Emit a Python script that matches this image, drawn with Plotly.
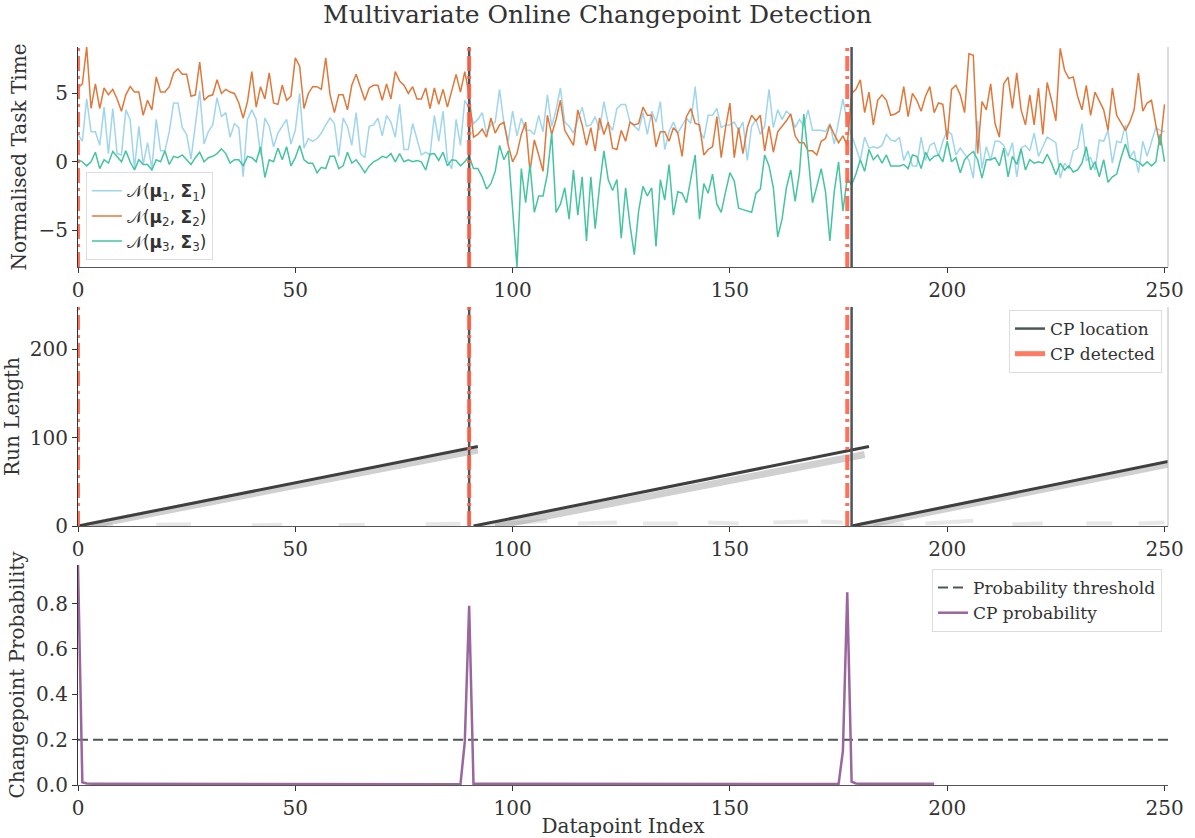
import plotly.graph_objects as go
from plotly.subplots import make_subplots

# ---------------- data ----------------
x_idx = list(range(251))

series_1 = [
    2.0, 1.5, 4.6, 2.2, 2.2, 1.2, 4.0, 0.6, 3.9, 0.6,
    0.5, 3.8, 3.1, -0.5, 2.6, -0.2, 1.4, -0.5, 3.1, 0.8,
    0.8, 2.2, 4.3, 4.3, 2.5, 2.0, 0.2, 2.5, 5.2, 1.3,
    2.2, 2.7, 4.7, 3.3, 3.6, 1.8, 2.8, 2.5, -1.1, 3.1,
    3.8, 3.1, 0.5, 3.2, 2.6, 1.1, 2.1, 2.6, 3.1, 1.3,
    2.3, 5.0, 1.0, 1.7, 1.5, 1.7, 2.1, 2.7, 3.2, 2.8,
    0.4, 3.2, 2.6, 1.2, 3.6, 0.6, 0.3, 2.6, 2.7, 3.2,
    1.9, 3.4, 2.9, 1.8, 4.2, 0.9, 0.9, 2.8, 1.7, 0.5,
    0.7, 0.5, 3.4, 1.5, 3.7, 0.1, -0.5, 3.1, 1.2, 4.5,
    3.9, 2.8, 3.1, 3.6, 2.1, 2.7, 2.9, 5.3, 2.8, 1.5,
    3.7, 1.9, 3.2, 2.3, 2.3, 2.0, 3.4, 2.2, 4.9, 2.6,
    3.8, 5.4, 2.9, 2.6, 2.1, 3.1, 4.0, 2.6, 2.7, 3.3,
    2.3, 4.4, 2.8, 2.3, 3.9, 4.2, 4.2, 2.9, 2.6, 2.3,
    3.6, 2.0, 3.7, 2.9, 4.4, 0.9, 2.2, 2.9, 2.1, 2.7,
    3.2, 2.8, 5.5, 2.3, 1.7, 3.4, 3.4, 3.9, 2.5, 2.7,
    2.7, 2.9, 2.3, 2.9, 0.1, 2.6, 3.1, 2.0, 2.6, 5.3,
    2.5, 3.8, 3.1, 3.7, 3.4, 2.5, 3.1, 2.6, 3.8, 2.3,
    2.3, 2.3, 2.2, 2.8, 1.3, 2.9, 4.6, 2.9, 2.0, 1.0,
    0.1, 1.8, 1.0, 1.1, 1.0, 1.2, 2.0, 1.6, 1.5, 1.8,
    0.1, 0.8, -0.3, -0.3, 1.8, 0.1, 1.2, 1.4, 0.4, 1.5,
    2.3, 2.0, 0.5, 1.0, 0.5, 0.1, -1.2, 3.0, -0.5, 1.1,
    0.1, 1.5, 1.5, 1.2, 0.4, 1.4, -1.1, 1.0, 1.2, 0.8,
    2.1, 0.4, 1.1, 1.8, 1.6, 1.4, -1.2, -0.1, -0.5, 0.8,
    1.0, 2.8, 0.1, 0.3, -0.6, 1.6, 1.5, 2.3, -0.1, 1.5,
    1.4, 2.7, 0.3, 0.8, -0.8, 1.5, 0.4, 1.4, 2.5, 2.3, 2.2,
]

series_2 = [
    5.4, 5.7, 8.4, 3.9, 5.7, 3.9, 5.4, 4.9, 5.3, 4.6,
    3.7, 4.9, 5.5, 5.1, 5.1, 3.4, 4.5, 3.8, 6.2, 5.1,
    5.1, 5.5, 6.5, 6.8, 6.4, 6.4, 4.8, 4.9, 7.3, 4.5,
    4.8, 4.9, 6.0, 5.0, 5.3, 5.1, 5.0, 4.3, 3.2, 4.4,
    6.6, 4.0, 5.5, 4.6, 6.5, 4.3, 4.2, 5.6, 4.5, 4.8,
    7.6, 7.0, 3.9, 5.0, 5.5, 5.5, 5.3, 7.6, 4.9, 3.6,
    4.9, 4.9, 3.8, 5.6, 6.4, 5.4, 4.5, 5.4, 5.6, 5.6,
    4.5, 5.7, 4.6, 6.6, 5.9, 5.6, 5.0, 5.5, 4.6, 4.6,
    5.4, 3.9, 5.4, 4.2, 5.3, 4.0, 5.3, 6.4, 5.1, 6.6,
    4.9, 1.8, 2.0, 2.4, 1.8, 3.2, 2.1, 2.7, 2.9, 1.2,
    0.0, 0.6, 2.0, 2.9, -0.7, 1.6, 0.5, -0.7, 3.4, 2.0,
    3.1, 4.5, 2.3, 1.8, 1.2, 3.8, 2.7, 1.2, 2.5, 0.8,
    3.2, 2.0, 2.9, 1.0, 0.9, 2.3, 1.5, 2.9, 2.7, 2.8,
    4.0, 3.4, 3.4, 1.1, 2.2, 2.2, 1.5, 2.5, 2.1, 0.4,
    3.3, 3.9, 2.8, 2.7, 0.5, 0.9, 1.1, 3.3, 0.3, 2.5,
    4.3, 0.3, 2.5, 0.6, 2.5, 3.4, 3.0, 3.4, 0.8, 2.6,
    0.7, 2.2, 2.6, 3.0, 3.5, 1.9, 1.4, 1.4, 0.8, 0.8,
    0.5, 1.5, 1.7, 2.7, 2.0, 1.4, 1.9, 1.2, 5.0, 5.3,
    6.0, 3.6, 5.1, 2.7, 4.5, 4.9, 4.5, 3.4, 3.5, 3.7,
    5.5, 3.3, 5.0, 4.5, 3.7, 4.8, 5.5, 3.6, 4.3, 4.2,
    1.6, 5.3, 5.6, 4.9, 3.6, 7.9, 7.8, 0.6, 4.4, 3.8,
    5.7, 2.8, 1.8, 5.7, 6.2, 3.9, 6.5, 3.8, 2.7, 4.9,
    2.7, 5.4, 2.0, 5.8, 4.5, 3.0, 8.3, 6.7, 6.1, 6.2,
    4.8, 3.8, 5.6, 3.4, 5.1, 4.4, 3.8, 2.3, 5.4, 3.4,
    2.9, 2.3, 2.9, 3.8, 6.5, 3.7, 4.3, 4.5, 2.7, 1.2, 4.2,
]

series_3 = [
    0.15, 0.0, -0.3, 0.0, 0.7, -0.5, 0.15, -0.1, 0.75, 0.4,
    0.0, 0.8, 0.0, -0.6, 0.15, -0.2, -0.2, -0.6, 0.15, 0.0,
    0.8, -0.2, 0.4, 0.3, 0.5, 0.15, -0.2, 0.3, 0.7, 0.0,
    0.3, 0.4, 0.6, 0.95, 0.6, -0.1, 0.15, 0.15, -0.3, 0.4,
    0.3, 0.0, 1.1, -1.15, 0.15, 0.0, 1.0, 0.15, 1.1, -0.3,
    0.3, 1.2, 0.15, -0.1, -0.1, -0.8, -0.4, -0.5, 0.4, 0.4,
    -0.5, -0.3, 0.7, -0.1, 0.15, -0.3, -0.8, -0.3, 0.0, 0.15,
    0.4, 0.3, 0.6, 0.0, 0.6, 0.0, 0.15, 0.0, 0.1, 0.0,
    -0.6, 0.55, 0.6, 0.1, 0.7, -0.3, 0.15, 0.1, -0.3, 0.0,
    0.4, -0.5, -0.5, -1.1, -2.0, -1.6, -0.7, 1.2, 0.15, 0.8,
    -3.5, -7.7, -0.5, -3.0, -0.2, -3.7, -2.5, -2.5, -0.9, 2.1,
    -3.7, -3.1, -1.9, -4.2, -0.6, -3.9, -1.1, -5.8, -1.1, -4.9,
    -1.8, 0.8, -1.3, -2.1, -1.3, -5.6, -1.9, -4.6, -6.8, -3.6,
    -1.8, -2.5, -1.9, -6.2, -1.3, -2.8, -0.2, -3.9, -2.2, -2.3,
    -3.0, -1.2, 0.5, -4.2, -1.6, -2.3, -0.9, -3.1, -3.7, -2.2,
    -0.8, -1.4, -3.4, -3.5, -3.6, -3.7, -2.3, -2.0, 0.5, -0.3,
    -1.9, -5.5, -4.2, -1.9, -0.6, -2.9, -0.8, 3.5, 0.4, -3.0,
    -1.8, -0.5, -2.2, -5.8, -2.2, 0.0, -3.6, -1.2, -1.7, -0.9,
    0.15, -0.7, 0.9, 0.15, 0.5, -0.1, 0.5, -0.3, -0.3, -0.3,
    -0.2, -0.5, 0.5, 0.4, -0.5, 0.7, 0.1, 0.4, 0.5, 0.0,
    1.5, 0.0, 0.3, -0.8, 0.15, 0.5, 0.75, 0.15, -1.2, 0.15,
    0.15, 0.3, -0.3, 1.0, -1.1, 0.4, -0.2, 0.95, -0.6, 0.15,
    -0.1, 0.0, -0.1, 0.55, -0.1, -0.95, -0.1, -0.6, -0.3, -0.75,
    -0.6, -0.1, 1.1, -0.6, 0.0, -1.1, 0.15, -1.5, -1.1, -0.9,
    0.3, 1.3, 0.3, 0.15, 0.0, -0.3, 0.0, -0.3, 0.0, 2.0, 0.0,
]

series_names = [
    "𝒩(<b>μ</b><sub>1</sub>, <b>Σ</b><sub>1</sub>)",
    "𝒩(<b>μ</b><sub>2</sub>, <b>Σ</b><sub>2</sub>)",
    "𝒩(<b>μ</b><sub>3</sub>, <b>Σ</b><sub>3</sub>)",
]

cp_location = [90, 178]
cp_detected = [0, 90, 177]

# run-length posterior ridges (start time, end time, run length at end)
ridge_start = [0, 91, 178]
ridge_end = [92, 182, 250.8]
ridge_end_r = [90, 90, 73]
# lighter spread just below each ridge
shadow_start = [2, 96, 180]
shadow_end = [92, 181, 250.8]
shadow_end_r = [86, 81, 70]
# faint low run-length mass
low_t = [[3, 8], [18, 26], [40, 47], [60, 66], [80, 88],
         [93, 108], [115, 124], [130, 138], [145, 152], [160, 168], [171, 176],
         [183, 190], [195, 206], [215, 222], [232, 238], [244, 250]]
low_r = [[1, 1.5], [1.5, 2], [1, 1.5], [1, 1.5], [2, 2.5],
         [1, 6], [3, 4], [3, 3], [4, 3], [4, 5], [5, 4],
         [1, 2], [3, 6], [2, 3], [3, 3], [3, 4]]

prob_x = list(range(198))
prob_cp = [
    0.97, 0.012, 0.007,
    0.005, 0.005, 0.005, 0.005, 0.005, 0.005, 0.005, 0.005, 0.005, 0.005,
    0.005, 0.005, 0.005, 0.005, 0.005, 0.005, 0.005, 0.005, 0.005, 0.005,
    0.005, 0.005, 0.005, 0.005, 0.005, 0.005, 0.005, 0.005, 0.005, 0.005,
    0.005, 0.005, 0.005, 0.005, 0.005, 0.005, 0.005, 0.005, 0.005, 0.005,
    0.005, 0.005, 0.005, 0.005, 0.005, 0.005, 0.005, 0.005, 0.005, 0.005,
    0.005, 0.005, 0.005, 0.005, 0.005, 0.005, 0.005, 0.005, 0.005, 0.005,
    0.005, 0.005, 0.005, 0.005, 0.005, 0.005, 0.005, 0.005, 0.005, 0.005,
    0.005, 0.005, 0.005, 0.005, 0.005, 0.005, 0.005, 0.005, 0.005, 0.005,
    0.005, 0.005, 0.005, 0.005, 0.005,
    0.003, 0.19, 0.79, 0.006,
    0.005, 0.005, 0.005, 0.005, 0.005, 0.005, 0.005, 0.005, 0.005, 0.005,
    0.005, 0.005, 0.005, 0.005, 0.005, 0.005, 0.005, 0.005, 0.005, 0.005,
    0.005, 0.005, 0.005, 0.005, 0.005, 0.005, 0.005, 0.005, 0.005, 0.005,
    0.005, 0.005, 0.005, 0.005, 0.005, 0.005, 0.005, 0.005, 0.005, 0.005,
    0.005, 0.005, 0.005, 0.005, 0.005, 0.005, 0.005, 0.005, 0.005, 0.005,
    0.005, 0.005, 0.005, 0.005, 0.005, 0.005, 0.005, 0.005, 0.005, 0.005,
    0.005, 0.005, 0.005, 0.005, 0.005, 0.005, 0.005, 0.005, 0.005, 0.005,
    0.005, 0.005, 0.005, 0.005, 0.005, 0.005, 0.005, 0.005, 0.005, 0.005,
    0.005, 0.005, 0.005,
    0.004, 0.15, 0.85, 0.015, 0.007,
    0.005, 0.005, 0.005, 0.005, 0.005, 0.005, 0.005, 0.005, 0.005, 0.005,
    0.005, 0.005, 0.005, 0.005, 0.005, 0.005, 0.005, 0.005,
]
threshold = 0.2

x_ticks = [0, 50, 100, 150, 200, 250]
y1_ticks = [-5, 0, 5]
y2_ticks = [0, 100, 200]
y3_ticks = [0.0, 0.2, 0.4, 0.6, 0.8]

# ---------------- style ----------------
SERIF = "DejaVu Serif"
TXT = "#333333"
C_SERIES = ["#9fd5ed", "#e0783a", "#45c4a0"]
C_LOC = "#4c5659"
C_DET = "rgba(255,99,71,0.9)"
C_PROB = "#9a669e"
X_RANGE = [0, 250.8]
Y1_RANGE = [-7.7, 8.4]
Y2_RANGE = [0, 248]
Y3_RANGE = [0, 0.97]
DET_DASH = "15px,5px,3px,5px"
FS = 20

fig = make_subplots(rows=3, cols=1)

# --- panel 1: series
for s, name, col in zip([series_1, series_2, series_3], series_names, C_SERIES):
    fig.add_trace(go.Scatter(x=x_idx, y=s, mode="lines", name=name,
                             line=dict(color=col, width=1.5), legend="legend"),
                  row=1, col=1)

# --- panel 2: run length ridges
for t0, t1, r1 in zip(shadow_start, shadow_end, shadow_end_r):
    fig.add_trace(go.Scatter(x=[t0, t1], y=[0, r1], mode="lines", showlegend=False,
                             line=dict(color="rgba(120,120,120,0.35)", width=7)),
                  row=2, col=1)
for lt, lr in zip(low_t, low_r):
    fig.add_trace(go.Scatter(x=lt, y=lr, mode="lines", showlegend=False,
                             line=dict(color="rgba(140,140,140,0.2)", width=4)),
                  row=2, col=1)
for t0, t1, r1 in zip(ridge_start, ridge_end, ridge_end_r):
    fig.add_trace(go.Scatter(x=[t0, t1], y=[0, r1], mode="lines", showlegend=False,
                             line=dict(color="#3f3f3f", width=3)),
                  row=2, col=1)

# --- vertical lines in panels 1 and 2
for row, yr in [(1, Y1_RANGE), (2, Y2_RANGE)]:
    for c in cp_location:
        fig.add_trace(go.Scatter(x=[c, c], y=yr, mode="lines", showlegend=False,
                                 line=dict(color=C_LOC, width=2.5)), row=row, col=1)
    for c in cp_detected:
        fig.add_trace(go.Scatter(x=[c, c], y=yr, mode="lines", showlegend=False,
                                 line=dict(color=C_DET, width=4, dash=DET_DASH)),
                      row=row, col=1)

# legend entries for panel 2
fig.add_trace(go.Scatter(x=[None], y=[None], mode="lines", name="CP location",
                         line=dict(color=C_LOC, width=2.5), legend="legend2"), row=2, col=1)
fig.add_trace(go.Scatter(x=[None], y=[None], mode="lines", name="CP detected",
                         line=dict(color="rgba(255,99,71,0.85)", width=5), legend="legend2"),
              row=2, col=1)

# --- panel 3: probability
fig.add_trace(go.Scatter(x=[0, 251], y=[threshold, threshold], mode="lines",
                         name="Probability threshold", legend="legend3",
                         line=dict(color=C_LOC, width=2, dash="10px,5px")), row=3, col=1)
fig.add_trace(go.Scatter(x=prob_x, y=prob_cp, mode="lines", name="CP probability",
                         legend="legend3", line=dict(color=C_PROB, width=2.5)), row=3, col=1)

axis_common = dict(showgrid=False, zeroline=False, showline=True, linecolor="#333333",
                   linewidth=1.2, ticks="outside", ticklen=5, tickwidth=1.2,
                   tickcolor="#333333", automargin=False,
                   tickfont=dict(family=SERIF, size=FS, color=TXT))

layout_axes = {}
y_domains = [[0.7019, 1.0], [0.3509, 0.6477], [0.0, 0.2981]]
y_ranges = [Y1_RANGE, Y2_RANGE, Y3_RANGE]
y_tickvals = [y1_ticks, y2_ticks, y3_ticks]
y_titles = ["Normalised Task Time", "Run Length", "Changepoint Probability"]
for i in range(3):
    sfx = "" if i == 0 else str(i + 1)
    layout_axes["xaxis" + sfx] = dict(axis_common, domain=[0, 1], range=X_RANGE,
                                      tickvals=x_ticks, linecolor="#555555",
                                      anchor="y" + sfx)
    ya = dict(axis_common, domain=y_domains[i], range=y_ranges[i], tickvals=y_tickvals[i],
              title=dict(text=y_titles[i], font=dict(family=SERIF, size=FS, color=TXT),
                         standoff=6), anchor="x" + sfx)
    if i == 2:
        ya["tickformat"] = ".1f"
    layout_axes["yaxis" + sfx] = ya
layout_axes["xaxis3"]["title"] = dict(text="Datapoint Index",
                                      font=dict(family=SERIF, size=FS, color=TXT), standoff=0)

fig.update_layout(**layout_axes)

legend_common = dict(bgcolor="rgba(255,255,255,0.8)", bordercolor="#dddddd", borderwidth=1,
                     font=dict(family=SERIF, size=17, color=TXT))
fig.update_layout(
    width=1195, height=838,
    margin=dict(l=78, r=27, t=47, b=53),
    paper_bgcolor="white", plot_bgcolor="white",
    title=dict(text="Multivariate Online Changepoint Detection", x=0.5, xref="container",
               y=1 - 14 / 838, yref="container", yanchor="middle",
               font=dict(family=SERIF, size=25, color=TXT)),
    legend=dict(legend_common, x=0.0073, y=0.711, xanchor="left", yanchor="bottom",
                font=dict(family="DejaVu Sans", size=17, color=TXT)),
    legend2=dict(legend_common, x=0.9945, y=0.6436, xanchor="right", yanchor="top"),
    legend3=dict(legend_common, x=0.9945, y=0.2926, xanchor="right", yanchor="top"),
    shapes=[
        dict(type="line", xref="x domain", yref="y domain", x0=1, x1=1, y0=0, y1=1,
             line=dict(color="#bbbbbb", width=1)),
        dict(type="line", xref="x2 domain", yref="y2 domain", x0=1, x1=1, y0=0, y1=1,
             line=dict(color="#bbbbbb", width=1)),
    ],
)

fig.write_html("out.html")
